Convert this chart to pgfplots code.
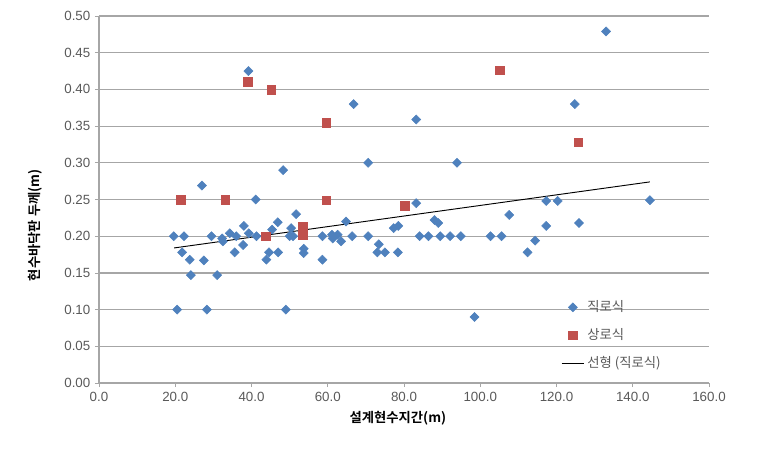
\documentclass[border=0pt]{standalone}
\usepackage{pgfplots}
\pgfplotsset{compat=1.18}
\usepackage{fontspec}
\setmainfont{Liberation Sans}
\newfontfamily\kr{Noto Sans CJK KR}[BoldFont={Noto Sans CJK KR Bold}]
\definecolor{blueS}{HTML}{4F81BD}
\definecolor{redS}{HTML}{C0504D}
\definecolor{gridc}{HTML}{A6A6A6}
\definecolor{tickc}{HTML}{595959}
\begin{document}
\begin{tikzpicture}
\path[use as bounding box] (-74.25pt,-51pt) rectangle (494.25pt,287.25pt);
\begin{axis}[
  scale only axis,
  width=457.5pt, height=275.25pt,
  xmin=0, xmax=160, ymin=0, ymax=0.5,
  xtick={0,20,...,160},
  ytick={0,0.05,...,0.5},
  axis x line*=bottom, axis y line*=left,
  axis line style={draw=gridc, line width=0.8pt, -},
  ymajorgrids,
  grid style={draw=gridc, line width=0.9pt},
  tick style={draw=gridc, line width=0.6pt},
  tick align=outside,
  major tick length=3pt,
  xticklabel style={/pgf/number format/.cd, fixed, fixed zerofill, precision=1},
  yticklabel style={/pgf/number format/.cd, fixed, fixed zerofill, precision=2},
  /pgf/number format/assume math mode=true,
  ticklabel style={font=\fontsize{10}{12}\selectfont, text=tickc},
  xlabel={\kr\bfseries 설계현수지간(m)},
  ylabel={\kr\bfseries 현수바닥판 두께(m)},
  xlabel style={at={(axis description cs:0.49,-0.095)}, anchor=center, font=\fontsize{10}{12}\selectfont},
  ylabel style={at={(axis description cs:-0.105,0.43)}, anchor=center, font=\fontsize{10}{12}\selectfont},
  legend style={draw=none, fill=none, at={(axis description cs:0.757,0.232)}, anchor=north west,
    font=\kr\fontsize{10}{12}\selectfont, text=tickc, row sep=7.2pt, inner sep=0pt},
  legend cell align=left,
]
\addplot[only marks, mark=square*, mark size=2.4pt, mark options={rotate=45, fill=blueS, draw=blueS}] coordinates {
(19.6,0.20) (20.5,0.10) (21.8,0.178) (22.3,0.20) (23.8,0.168) (24.1,0.147) (27.0,0.269) (27.5,0.167)
(28.3,0.10) (29.5,0.20) (31.0,0.147) (32.3,0.197) (32.5,0.193) (34.3,0.204) (35.6,0.178) (36.0,0.20)
(37.8,0.188) (38.0,0.214) (39.2,0.425) (39.3,0.204) (41.1,0.25) (41.3,0.20) (43.9,0.168) (44.6,0.178)
(45.4,0.209) (46.9,0.219) (47.0,0.178) (48.3,0.290) (49.0,0.10) (50.0,0.20) (50.4,0.211) (50.9,0.20)
(51.7,0.230) (53.7,0.183) (53.7,0.177) (58.6,0.20) (58.6,0.168) (61.1,0.202) (61.3,0.197) (62.6,0.202)
(63.5,0.193) (64.8,0.220) (66.4,0.20) (66.8,0.380) (70.6,0.20) (70.6,0.30) (73.0,0.178) (73.4,0.189)
(75.0,0.178) (77.3,0.211) (78.4,0.178) (78.5,0.214) (83.2,0.245) (83.2,0.359) (84.1,0.20) (86.4,0.20)
(88.0,0.222) (89.0,0.218) (89.5,0.20) (92.1,0.20) (93.9,0.30) (94.9,0.20) (98.5,0.09) (102.7,0.20)
(105.6,0.20) (107.6,0.229) (112.4,0.178) (114.4,0.194) (117.3,0.214) (117.3,0.248) (120.3,0.248)
(124.8,0.380) (125.9,0.218) (133.0,0.479) (144.5,0.249)
};
\addlegendentry{직로식}
\addplot[only marks, mark=square*, mark size=3.3pt, mark options={fill=redS, draw=redS}] coordinates {
(21.5,0.25) (33.1,0.25) (39.0,0.410) (43.7,0.20) (45.2,0.400) (53.5,0.213) (53.5,0.202)
(59.6,0.355) (59.6,0.249) (80.2,0.242) (105.1,0.426) (125.7,0.328)
};
\addlegendentry{상로식}
\addplot[black, line width=0.7pt] coordinates {(19.7,0.184) (144.5,0.274)};
\addlegendentry{선형 (직로식)}
\end{axis}
\end{tikzpicture}
\end{document}
